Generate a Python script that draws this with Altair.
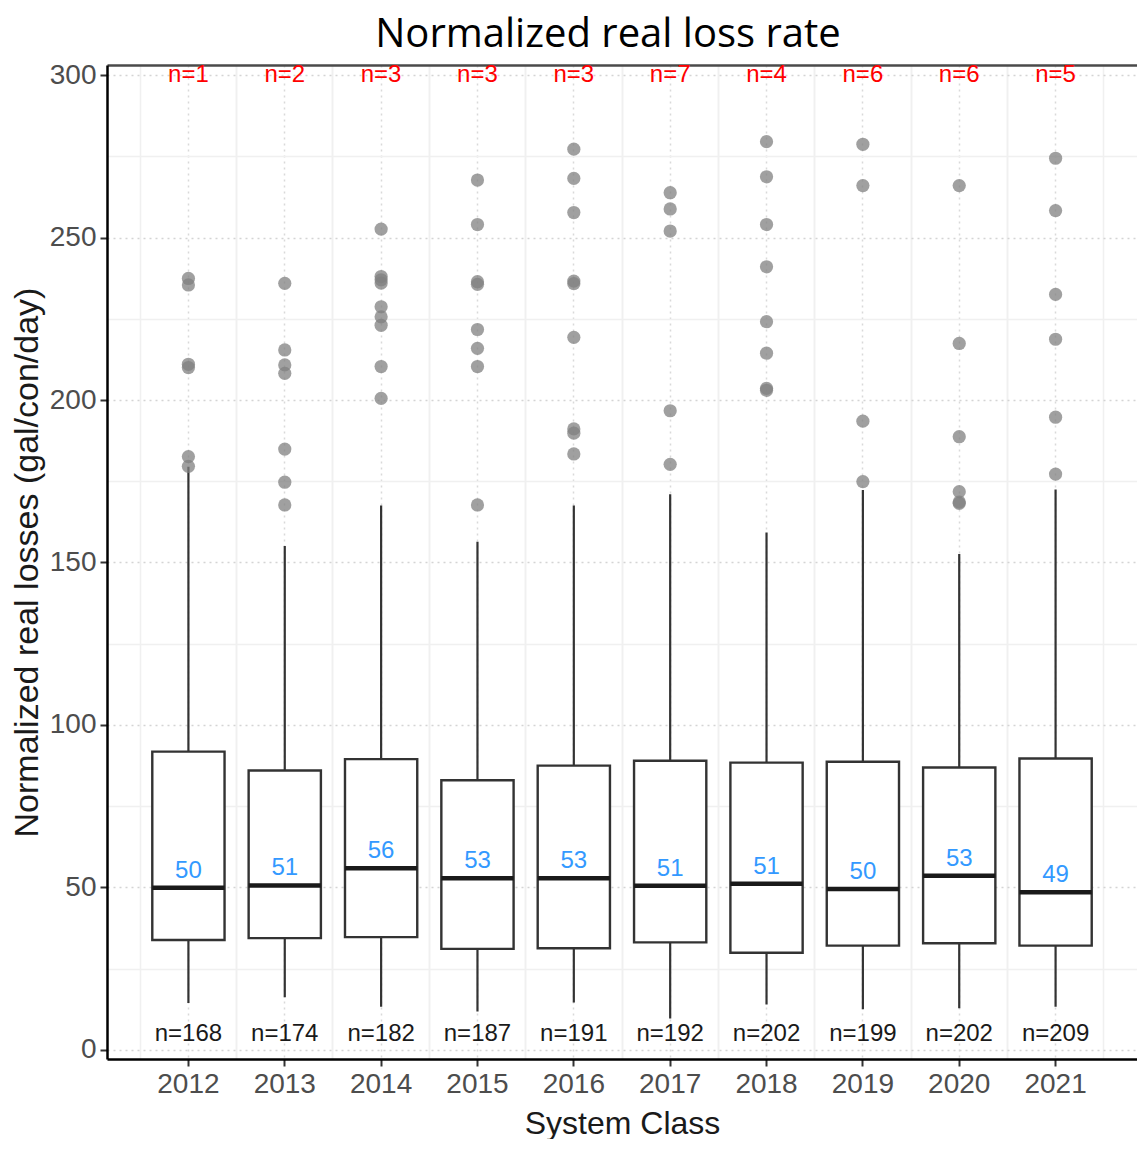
import altair as alt
import pandas as pd

years = ["2012", "2013", "2014", "2015", "2016", "2017", "2018", "2019", "2020", "2021"]
q1 = [33.8, 34.4, 34.7, 31.1, 31.3, 33.1, 29.9, 32.1, 32.8, 32.1]
median = [49.9, 50.6, 55.9, 52.8, 52.8, 50.5, 51.1, 49.5, 53.6, 48.5]
q3 = [91.8, 86.0, 89.5, 83.0, 87.5, 89.0, 88.4, 88.7, 86.9, 89.7]
whisk_lo = [14.4, 16.2, 13.3, 11.8, 14.6, 9.7, 14.0, 12.5, 12.8, 13.3]
whisk_hi = [179.5, 155.1, 167.5, 156.4, 167.5, 171.0, 159.2, 172.3, 152.6, 172.5]
median_label = ["50", "51", "56", "53", "53", "51", "51", "50", "53", "49"]
n_total = [168, 174, 182, 187, 191, 192, 202, 199, 202, 209]
n_above = [1, 2, 3, 3, 3, 7, 4, 6, 6, 5]

outliers = [
    [237.4, 235.4, 211.0, 210.0, 182.6, 179.6],
    [235.9, 215.4, 210.8, 208.2, 184.9, 174.7, 167.7],
    [252.6, 238.0, 237.0, 236.0, 228.7, 225.6, 223.0, 210.3, 200.5],
    [267.7, 254.0, 236.4, 235.6, 221.7, 215.9, 210.3, 167.7],
    [277.2, 268.2, 257.7, 236.6, 235.8, 219.3, 191.1, 189.8, 183.4],
    [263.8, 258.8, 252.0, 196.7, 180.2],
    [279.5, 268.7, 254.0, 241.0, 224.1, 214.4, 203.6, 203.0],
    [278.7, 266.0, 193.5, 174.9],
    [266.0, 217.4, 188.7, 171.8, 168.6, 168.2],
    [274.4, 258.3, 232.5, 218.7, 194.7, 177.2],
]

Y_LABEL_VALUE = 300
N_LABEL_VALUE = 5

stats = pd.DataFrame({
    "year": years, "q1": q1, "median": median, "q3": q3,
    "lo": whisk_lo, "hi": whisk_hi, "mlabel": median_label,
    "ntot": ["n=%d" % v for v in n_total],
    "nab": ["n=%d" % v for v in n_above],
    "top": [Y_LABEL_VALUE] * len(years),
    "bottom": [N_LABEL_VALUE] * len(years),
})
pts = pd.DataFrame([
    {"year": y, "value": v} for y, vals in zip(years, outliers) for v in vals
])

FONT = "Liberation Sans"
ydom = [-2.8, 303.1]

xenc = alt.X(
    "year:N",
    title="System Class",
    scale=alt.Scale(paddingInner=0.25, paddingOuter=0.47),
    axis=alt.Axis(
        labelAngle=0, labelFontSize=28, labelColor="#4d4d4d", labelFont=FONT,
        labelPadding=4, titleFontSize=32, titleFont=FONT, titleColor="#1a1a1a",
        titleFontWeight="normal", titlePadding=10,
        domainColor="#000000", domainWidth=2.5, tickColor="#333333",
        tickWidth=2, tickSize=7, grid=True, gridColor="#d9d9d9",
        gridDash=[2, 4], gridWidth=1.5, bandPosition=0.5,
    ),
)

xtop = alt.X(
    "year:N",
    axis=alt.Axis(
        orient="top", labels=False, ticks=False, title=None, grid=False,
        domain=True, domainColor="#4a4a4a", domainWidth=2.5,
    ),
)


def minor_x(pos):
    return alt.X(
        "year:N",
        axis=alt.Axis(
            labels=False, ticks=False, title=None, domain=False, grid=True,
            gridColor="#f0f0f0", gridWidth=1.5, bandPosition=pos,
        ),
    )


xnone = alt.X("year:N", axis=None)

ytick_vals = [0, 25, 50, 75, 100, 125, 150, 175, 200, 225, 250, 275, 300]

yaxis = alt.Axis(
    values=ytick_vals,
    labelExpr="datum.value % 50 === 0 ? datum.label : ''",
    labelFontSize=28, labelColor="#4d4d4d", labelFont=FONT, labelPadding=4,
    titleFontSize=34, titleFont=FONT, titleColor="#1a1a1a",
    titleFontWeight="normal", titlePadding=5,
    domainColor="#000000", domainWidth=2.5,
    tickColor="#333333", tickWidth=2, tickSize=7,
    tickOpacity={"condition": {"test": "datum.value % 50 === 0", "value": 1}, "value": 0},
    grid=True,
    gridColor={"condition": {"test": "datum.value % 50 === 0", "value": "#d4d4d4"}, "value": "#f0f0f0"},
    gridDash={"condition": {"test": "datum.value % 50 === 0", "value": [2, 4]}, "value": []},
    gridWidth=1.5,
)

base = alt.Chart(stats)

whiskers = base.mark_rule(color="#333333", strokeWidth=2.2).encode(
    x=xenc,
    y=alt.Y("lo:Q", title="Normalized real losses (gal/con/day)",
            scale=alt.Scale(domain=ydom, nice=False, zero=False), axis=yaxis),
    y2="hi:Q",
)

boxes = base.mark_bar(fill="white", stroke="#333333", strokeWidth=2.4).encode(
    x=minor_x(-1.0 / 6.0), y="q1:Q", y2="q3:Q",
)

med = base.mark_bar(fill="#1a1a1a", stroke="#1a1a1a", strokeWidth=4.5).encode(
    x=minor_x(7.0 / 6.0), y="median:Q", y2="median:Q",
)

points = alt.Chart(pts).mark_circle(size=175, color="#808080", opacity=0.75).encode(
    x=xnone, y="value:Q",
)

mtext = base.mark_text(font=FONT, fontSize=24, color="#3399ff", baseline="bottom", dy=-5).encode(
    x=xnone, y="median:Q", text="mlabel:N",
)

ntext = base.mark_text(font=FONT, fontSize=24, color="#1a1a1a", baseline="middle").encode(
    x=xnone, y="bottom:Q", text="ntot:N",
)

atext = base.mark_text(font=FONT, fontSize=24, color="#ff0000", baseline="middle").encode(
    x=xtop, y="top:Q", text="nab:N",
)

chart = alt.layer(whiskers, boxes, med, points, mtext, ntext, atext).resolve_axis(
    x="independent"
).properties(
    width=1030, height=994,
    title=alt.TitleParams("Normalized real loss rate", font="Open Sans", fontSize=40,
                          fontWeight="normal", color="#000000", offset=6, anchor="middle",
                          dx=-14),
    padding={"left": 2, "top": 7, "right": 0, "bottom": 0},
).configure_view(stroke=None)

chart.save("out.html", embed_options={"renderer": "svg", "actions": False})
